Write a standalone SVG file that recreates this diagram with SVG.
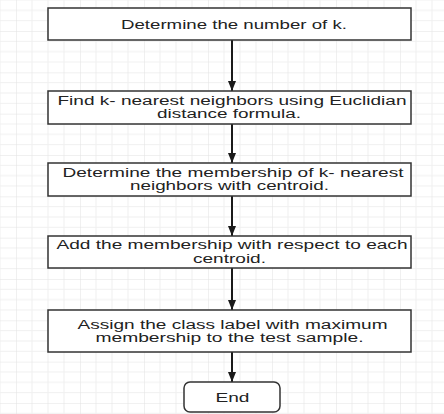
<svg xmlns="http://www.w3.org/2000/svg" width="444" height="414" viewBox="0 0 444 414">
  <defs>
    <pattern id="grid" x="16" y="31" width="64" height="41.33" patternUnits="userSpaceOnUse">
      <path d="M16 0V41.33M32 0V41.33M48 0V41.33M0 10.33H64M0 20.67H64M0 31H64" fill="none" stroke="#f0f0f0" stroke-width="1"/>
      <path d="M0 0V41.33M0 0H64" fill="none" stroke="#e2e2e2" stroke-width="1"/>
    </pattern>
    <marker id="arrow" markerWidth="10" markerHeight="8" refX="10" refY="4" orient="auto" markerUnits="userSpaceOnUse">
      <path d="M0 0L10 4L0 8Z" fill="#1a1a1a"/>
    </marker>
    <style>
      .box { fill: #ffffff; stroke: #333333; stroke-width: 1.5; }
      .lbl { font-family: "Liberation Sans", Arial, sans-serif; font-size: 12.5px; fill: #222222; text-anchor: middle; }
      .edge { fill: none; stroke: #1a1a1a; stroke-width: 2; marker-end: url(#arrow); }
    </style>
  </defs>
  <rect width="444" height="414" fill="#ffffff"/>
  <rect width="444" height="414" fill="url(#grid)"/>

  <g id="connectors">
    <path class="edge" d="M232 40V91"/>
    <path class="edge" d="M232 124V163"/>
    <path class="edge" d="M232 196V236"/>
    <path class="edge" d="M232 268V310"/>
    <path class="edge" d="M232 352V382"/>
  </g>

  <g id="n1">
    <rect class="box" x="48" y="8" width="363" height="32"/>
    <text class="lbl" x="234" y="28.5" textLength="226" lengthAdjust="spacingAndGlyphs">Determine the number of k.</text>
  </g>
  <g id="n2">
    <rect class="box" x="48" y="91" width="363" height="33"/>
    <text class="lbl" x="232" y="104.5" textLength="349" lengthAdjust="spacingAndGlyphs">Find k- nearest neighbors using Euclidian</text>
    <text class="lbl" x="229" y="118" textLength="144" lengthAdjust="spacingAndGlyphs">distance formula.</text>
  </g>
  <g id="n3">
    <rect class="box" x="48" y="163" width="363" height="33"/>
    <text class="lbl" x="233" y="176.5" textLength="341" lengthAdjust="spacingAndGlyphs">Determine the membership of k- nearest</text>
    <text class="lbl" x="229.5" y="190" textLength="199" lengthAdjust="spacingAndGlyphs">neighbors with centroid.</text>
  </g>
  <g id="n4">
    <rect class="box" x="48" y="236" width="363" height="32"/>
    <text class="lbl" x="232" y="249" textLength="351" lengthAdjust="spacingAndGlyphs">Add the membership with respect to each</text>
    <text class="lbl" x="229.5" y="262.5" textLength="73" lengthAdjust="spacingAndGlyphs">centroid.</text>
  </g>
  <g id="n5">
    <rect class="box" x="48" y="310" width="363" height="42"/>
    <text class="lbl" x="232.5" y="328.5" textLength="310" lengthAdjust="spacingAndGlyphs">Assign the class label with maximum</text>
    <text class="lbl" x="229.5" y="342" textLength="268" lengthAdjust="spacingAndGlyphs">membership to the test sample.</text>
  </g>
  <g id="end">
    <rect class="box" x="184" y="382" width="96" height="30" rx="6" ry="6"/>
    <text class="lbl" x="232.5" y="402" textLength="34" lengthAdjust="spacingAndGlyphs" style="font-size:13.5px">End</text>
  </g>
</svg>
